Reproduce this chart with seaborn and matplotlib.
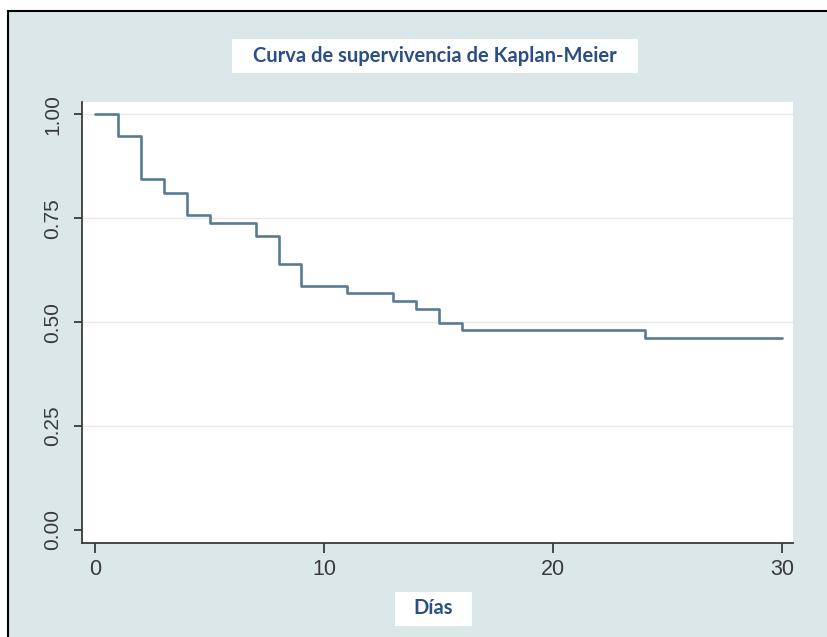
import matplotlib
matplotlib.use("Agg")
import matplotlib.pyplot as plt
import seaborn as sns
import pandas as pd
from matplotlib import font_manager
from matplotlib.patches import Rectangle

# Data
dias = [0, 1, 2, 3, 4, 5, 7, 8, 9, 11, 13, 14, 15, 16, 24, 30]
supervivencia = [1.000, 0.949, 0.845, 0.810, 0.758, 0.740, 0.707, 0.639,
                 0.587, 0.570, 0.551, 0.532, 0.498, 0.481, 0.463, 0.463]
x_ticks = [0, 10, 20, 30]
y_ticks = [0.00, 0.25, 0.50, 0.75, 1.00]
y_tick_labels = ["0.00", "0.25", "0.50", "0.75", "1.00"]
title = "Curva de supervivencia de Kaplan-Meier"
xlabel = "Días"

sns.set_theme(style="white")
names = {f.name for f in font_manager.fontManager.ttflist}
tick_font = "Liberation Sans Narrow" if "Liberation Sans Narrow" in names else "Liberation Sans"
title_font = "Lato" if "Lato" in names else "DejaVu Sans"
plt.rcParams["font.family"] = [tick_font, "DejaVu Sans"]

W, H = 828, 637
fig = plt.figure(figsize=(W / 100, H / 100), dpi=100)
fig.patch.set_facecolor("white")

bg = "#dce7ea"
# outer background with black border on top/left
fig.patches.append(Rectangle((8 / W, -0.02), 1.05, 1 - 11 / H + 0.02,
                             transform=fig.transFigure, facecolor=bg,
                             edgecolor="black", linewidth=1.5, zorder=-10))

left, right = 82 / W, 793 / W
bottom, top = 1 - 542.7 / H, 1 - 102 / H
ax = fig.add_axes([left, bottom, right - left, top - bottom])
ax.set_zorder(5)
ax.set_facecolor("white")

df = pd.DataFrame({"dias": dias, "surv": supervivencia})
sns.lineplot(data=df, x="dias", y="surv", drawstyle="steps-post",
             color="#587b93", linewidth=1.9, ax=ax, zorder=3)

ax.set_xlim(-0.59, 30.49)
ax.set_ylim(-0.0306, 1.030)
ax.set_xticks(x_ticks)
ax.set_yticks(y_ticks)
ax.set_yticklabels(y_tick_labels, rotation=90, va="center")
for y in y_ticks[1:]:
    ax.axhline(y, color="#e6e9ea", linewidth=1.0, zorder=1)

for s in ["top", "right"]:
    ax.spines[s].set_visible(False)
for s in ["left", "bottom"]:
    ax.spines[s].set_color("#3a3a3a")
    ax.spines[s].set_linewidth(1.3)

ax.tick_params(axis="x", direction="out", length=7, width=1.3, color="#3a3a3a",
               labelsize=15.5, labelcolor="#3a3a3a", pad=5, bottom=True)
ax.tick_params(axis="y", direction="out", length=6, width=1.3, color="#3a3a3a",
               labelsize=15, labelcolor="#3a3a3a", pad=8, left=True)
ax.set_xlabel("")
ax.set_ylabel("")

# title box
fig.patches.append(Rectangle((232 / W, 1 - 73 / H), (638 - 232) / W, 34 / H,
                             transform=fig.transFigure, facecolor="white",
                             edgecolor="none", zorder=1))
fig.text(435 / W, 1 - 56 / H, title, ha="center", va="center",
         fontsize=14.5, fontweight="bold", color="#2a4e85",
         family=[title_font, "DejaVu Sans"], zorder=2)

# x label box
fig.patches.append(Rectangle((395 / W, 1 - 626 / H), (472 - 395) / W, 34 / H,
                             transform=fig.transFigure, facecolor="white",
                             edgecolor="none", zorder=1))
fig.text(433 / W, 1 - 608 / H, xlabel, ha="center", va="center",
         fontsize=14.5, fontweight="bold", color="#2a4e85",
         family=[title_font, "DejaVu Sans"], zorder=2)

fig.savefig("out.png", dpi=100, facecolor=fig.get_facecolor())
